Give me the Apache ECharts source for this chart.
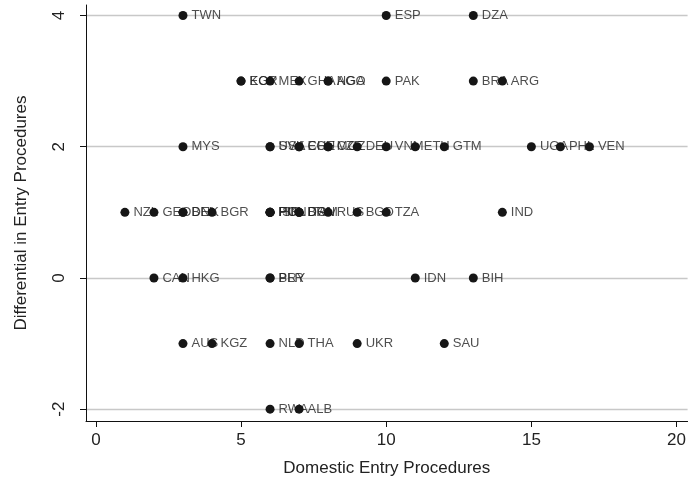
<!DOCTYPE html>
<html>
<head>
<meta charset="utf-8">
<script src="https://cdn.jsdelivr.net/npm/echarts@6/dist/echarts.min.js"></script>
<style>
  html, body { margin: 0; padding: 0; background: #fff; }
  #chart { width: 689px; height: 483px; }
</style>
</head>
<body>
<div id="chart"></div>
<script>
// country codes, domestic entry procedures (x), differential (y)
const countries = [
  "TWN", "ESP", "DZA",
  "KOR", "EGY", "MEX", "GHA", "AGO", "NGA", "PAK", "BRA", "ARG",
  "MYS", "USA", "SVK", "ECU", "CHE", "MOZ", "CZE", "DEU", "VNM", "ETH", "GTM", "UGA", "PHL", "VEN",
  "NZL", "GEO", "BEL", "DNK", "BGR", "HUN", "POL", "ISR", "FIN", "ITA", "DOM", "BRN", "RUS", "BGD", "TZA", "IND",
  "CAN", "HKG", "BLR", "PRY", "IDN", "BIH",
  "AUS", "KGZ", "NLD", "THA", "UKR", "SAU",
  "RWA", "ALB"
];
const domestic = [
  3, 10, 13,
  5, 5, 6, 7, 8, 8, 10, 13, 14,
  3, 6, 6, 7, 7, 8, 8, 9, 10, 11, 12, 15, 16, 17,
  1, 2, 3, 3, 4, 6, 6, 6, 6, 7, 7, 7, 8, 9, 10, 14,
  2, 3, 6, 6, 11, 13,
  3, 4, 6, 7, 9, 12,
  6, 7
];
const differential = [
  4, 4, 4,
  3, 3, 3, 3, 3, 3, 3, 3, 3,
  2, 2, 2, 2, 2, 2, 2, 2, 2, 2, 2, 2, 2, 2,
  1, 1, 1, 1, 1, 1, 1, 1, 1, 1, 1, 1, 1, 1, 1, 1,
  0, 0, 0, 0, 0, 0,
  -1, -1, -1, -1, -1, -1,
  -2, -2
];
const xTicks = [0, 5, 10, 15, 20];
const yTicks = [-2, 0, 2, 4];

const points = countries.map((c, i) => [domestic[i], differential[i], c]);

const chart = echarts.init(document.getElementById("chart"));

const font = "Liberation Sans, Arial, Helvetica, sans-serif";

const option = {
  animation: false,
  grid: { left: 86, right: 0, top: 5, bottom: 62 },
  xAxis: {
    type: "value",
    min: -0.34,
    max: 20.38,
    name: "Domestic Entry Procedures",
    nameLocation: "middle",
    nameGap: 39,
    nameTextStyle: { fontFamily: font, fontSize: 17, color: "#222" },
    axisLine: { show: true, onZero: false, lineStyle: { color: "#111", width: 1 } },
    axisTick: { show: true, length: 6, customValues: xTicks, lineStyle: { color: "#111" } },
    axisLabel: {
      customValues: xTicks,
      margin: 11,
      fontFamily: font,
      fontSize: 17,
      color: "#222"
    },
    splitLine: { show: false }
  },
  yAxis: {
    type: "value",
    min: -2.18,
    max: 4.16,
    name: "Differential in Entry Procedures",
    nameLocation: "middle",
    nameGap: 56,
    nameRotate: 90,
    nameTextStyle: { fontFamily: font, fontSize: 17, color: "#222" },
    axisLine: { show: true, onZero: false, lineStyle: { color: "#111", width: 1 } },
    axisTick: { show: true, length: 6, customValues: yTicks, lineStyle: { color: "#111" } },
    axisLabel: {
      customValues: yTicks,
      rotate: 90,
      margin: 18,
      fontFamily: font,
      fontSize: 17,
      color: "#222"
    },
    splitLine: { show: true, lineStyle: { color: "#c8c8c8", width: 1.4 } }
  },
  series: [
    {
      // labels drawn underneath the dots
      type: "scatter",
      z: 2,
      data: points,
      symbolSize: 9,
      itemStyle: { color: "rgba(0,0,0,0)" },
      label: {
        show: true,
        position: "right",
        distance: 4,
        formatter: (p) => p.value[2],
        fontFamily: font,
        fontSize: 13,
        color: "#222"
      }
    },
    {
      type: "scatter",
      z: 3,
      data: points,
      symbolSize: 9,
      itemStyle: { color: "#161616", opacity: 1 }
    }
  ]
};

chart.setOption(option);
</script>
</body>
</html>
